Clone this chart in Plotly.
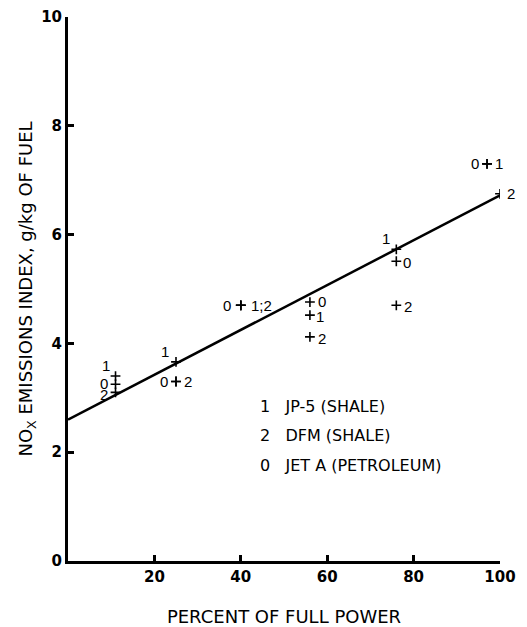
import plotly.graph_objects as go

# ---- data ----
power_jp5 = [11, 25, 40, 56, 76, 97]
nox_jp5 = [3.4, 3.66, 4.7, 4.52, 5.73, 7.3]
power_jeta = [11, 25, 40, 56, 76, 97]
nox_jeta = [3.25, 3.3, 4.7, 4.76, 5.51, 7.3]
power_dfm = [11, 25, 40, 56, 76, 100]
nox_dfm = [3.1, 3.3, 4.7, 4.12, 4.7, 6.75]

fit_x = [0, 100]
fit_y = [2.6, 6.72]

x_ticks = [20, 40, 60, 80, 100]
y_ticks = [0, 2, 4, 6, 8, 10]

legend_codes = ["1", "2", "0"]
legend_names = ["JP-5 (SHALE)", "DFM (SHALE)", "JET A (PETROLEUM)"]

# label text and pixel offset for each point (style only)
labels_jp5 = [("1", -10, 11), ("1", -11, 10), ("1;2", 21, 0), ("1", 10, -1), ("1", -10, 11), ("1", 12, 0)]
labels_jeta = [("0", -12, 1), ("0", -12, 0), ("0", -14, 0), ("0", 12, 1), ("0", 11, -1), ("0", -12, 0)]
labels_dfm = [("2", -12, -2), ("2", 12, 0), ("", 0, 0), ("2", 12, -2), ("2", 12, -1), ("2", 11, 0)]

FONT = "Liberation Sans"
TFONT = "DejaVu Sans"

fig = go.Figure()

fig.add_trace(go.Scatter(x=fit_x, y=fit_y, mode="lines",
                         line=dict(color="black", width=2.5),
                         hoverinfo="skip", showlegend=False))

for xs, ys in [(power_jp5, nox_jp5), (power_jeta, nox_jeta), (power_dfm, nox_dfm)]:
    fig.add_trace(go.Scatter(x=xs, y=ys, mode="markers",
                             marker=dict(symbol="cross-thin", size=7,
                                         line=dict(color="black", width=1.6)),
                             showlegend=False))

annotations = []
for xs, ys, labs in [(power_jp5, nox_jp5, labels_jp5),
                     (power_jeta, nox_jeta, labels_jeta),
                     (power_dfm, nox_dfm, labels_dfm)]:
    for x, y, (t, dx, dy) in zip(xs, ys, labs):
        if not t:
            continue
        annotations.append(dict(x=x, y=y, xref="x", yref="y", text=t,
                                showarrow=False, xshift=dx, yshift=dy,
                                font=dict(family=FONT, size=15, color="black")))

W, H = 527, 627
ML, MR, MT, MB = 68, 27, 17, 66

for i, (c, n) in enumerate(zip(legend_codes, legend_names)):
    px, py = 258, 406 + 29.5 * i
    annotations.append(dict(x=(px - ML) / (W - ML - MR),
                            y=(H - MB - py) / (H - MT - MB),
                            xref="paper", yref="paper",
                            text=f"{c}&nbsp;&nbsp;&nbsp;{n}", showarrow=False,
                            xanchor="left", yanchor="middle",
                            font=dict(family=TFONT, size=16, color="black")))

fig.update_layout(
    width=W, height=H,
    margin=dict(l=ML, r=MR, t=MT, b=MB),
    paper_bgcolor="white", plot_bgcolor="white",
    annotations=annotations,
    font=dict(family=TFONT, color="black"),
)

fig.update_xaxes(range=[0, 100], tickvals=x_ticks, ticks="inside", ticklen=6,
                 tickwidth=3, tickcolor="black", showgrid=False, zeroline=False,
                 showline=True, linecolor="black", linewidth=3, automargin=False,
                 tickfont=dict(family=TFONT, size=15, weight="bold"),
                 title=dict(text="PERCENT OF FULL POWER", standoff=28,
                            font=dict(family=TFONT, size=18)))
fig.update_yaxes(range=[0, 10], tickvals=y_ticks, ticks="inside", ticklen=6,
                 tickwidth=3, tickcolor="black", showgrid=False, zeroline=False,
                 showline=True, linecolor="black", linewidth=3, automargin=False,
                 tickfont=dict(family=TFONT, size=15, weight="bold"),
                 title=dict(text="NO<sub>X</sub> EMISSIONS INDEX, g/kg OF FUEL", standoff=4,
                            font=dict(family=TFONT, size=18)))

fig.write_html("out.html")
